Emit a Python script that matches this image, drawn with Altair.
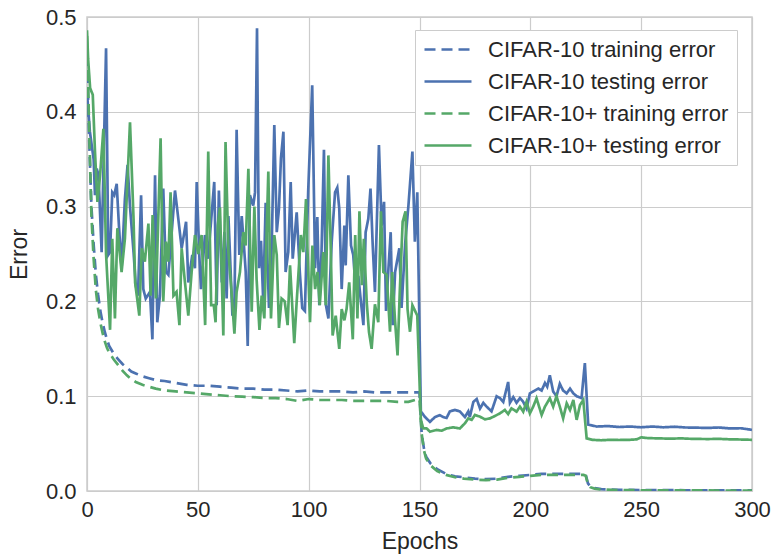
import altair as alt
import pandas as pd

SERIES = ["CIFAR-10 training error", "CIFAR-10 testing error",
          "CIFAR-10+ training error", "CIFAR-10+ testing error"]
COLORS = ["#4C72B0", "#4C72B0", "#55A868", "#55A868"]
DASHES = [[11, 6], [1, 0], [11, 6], [1, 0]]

c10_train = [(0,0.46),(1,0.37),(2,0.3),(3,0.26),(4,0.228),(5,0.207),(6,0.19),(7,0.178),(8,0.168),(9,0.16),(10,0.153),(12,0.145),(14,0.139),(16,0.134),(18,0.13),(20,0.126),(22,0.124),(25,0.121),(28,0.119),(31,0.117),(35,0.116),(40,0.114),(45,0.112),(50,0.111),(55,0.111),(60,0.11),(65,0.109),(70,0.108),(75,0.108),(80,0.107),(85,0.107),(90,0.106),(95,0.105),(100,0.106),(105,0.105),(110,0.105),(115,0.105),(120,0.104),(125,0.105),(130,0.104),(135,0.104),(140,0.104),(145,0.104),(150,0.104),(151,0.06),(152,0.045),(153,0.036),(155,0.029),(158,0.023),(162,0.018),(166,0.0155),(170,0.0145),(175,0.013),(180,0.0125),(185,0.013),(190,0.015),(195,0.016),(200,0.017),(205,0.018),(210,0.018),(215,0.018),(220,0.018),(224,0.018),(225,0.017),(226,0.008),(227,0.005),(229,0.003),(232,0.002),(240,0.0012),(250,0.001),(270,0.0008),(300,0.0007)]

c10_test = [(0,0.42),(1.3,0.379),(3,0.35),(3.6,0.312),(4.4,0.34),(5.2,0.333),(6.6,0.252),(8.6,0.467),(9.6,0.249),(10.4,0.252),(11.4,0.315),(12.3,0.312),(13.4,0.324),(14.4,0.28),(15.6,0.235),(17.1,0.308),(18.3,0.344),(19.4,0.30),(21,0.252),(22,0.217),(23,0.206),(24.4,0.312),(25.4,0.213),(26.5,0.203),(28.4,0.21),(29.5,0.16),(30.7,0.333),(31.7,0.178),(32.9,0.206),(34.4,0.319),(35.6,0.231),(36.7,0.228),(39.7,0.317),(41.2,0.287),(42.7,0.256),(44.7,0.284),(45.7,0.22),(47.5,0.249),(48.7,0.235),(49.5,0.326),(50.6,0.252),(51.4,0.213),(53.2,0.27),(54.6,0.245),(57.4,0.326),(58.5,0.196),(59.5,0.317),(60.8,0.22),(62,0.273),(63,0.203),(63.8,0.29),(65.6,0.185),(66.5,0.192),(67.5,0.381),(68.7,0.249),(69.8,0.29),(70.8,0.259),(71.6,0.231),(72.5,0.153),(73.5,0.312),(75,0.301),(75.8,0.315),(76.7,0.488),(77.6,0.235),(78.5,0.264),(79.5,0.2),(80.6,0.304),(82.1,0.193),(83.3,0.256),(84.5,0.386),(85.6,0.273),(86.6,0.298),(87.5,0.351),(88.6,0.379),(89.6,0.231),(90.8,0.252),(91.9,0.326),(92.8,0.245),(94.6,0.294),(96,0.231),(97.1,0.193),(98.3,0.19),(99.8,0.317),(101.6,0.428),(102.9,0.235),(103.9,0.289),(104.8,0.196),(105.8,0.252),(106.9,0.36),(107.8,0.196),(108.9,0.182),(110.4,0.263),(111.9,0.315),(112.9,0.32),(113.8,0.298),(114.9,0.213),(116.1,0.28),(116.7,0.238),(117.9,0.333),(119.1,0.259),(120.1,0.249),(121.2,0.213),(122.4,0.227),(123.6,0.199),(124.7,0.175),(125.7,0.273),(126.9,0.287),(127.9,0.319),(128.9,0.259),(129.9,0.21),(131.7,0.365),(132.9,0.28),(134,0.305),(134.9,0.19),(136,0.235),(137,0.273),(137.9,0.175),(139,0.231),(140.9,0.256),(141.9,0.193),(143.5,0.26),(145,0.301),(146.8,0.358),(147.9,0.263),(149,0.315),(150.6,0.084),(152.5,0.078),(154.7,0.073),(157,0.078),(159.2,0.08),(160.7,0.078),(162.2,0.077),(163.7,0.084),(166,0.0855),(168.2,0.084),(170.5,0.078),(172,0.084),(172.7,0.078),(174.3,0.094),(175.8,0.097),(177.3,0.087),(178.8,0.093),(180.3,0.089),(182.5,0.084),(184.8,0.1),(186.3,0.098),(187.8,0.094),(190,0.115),(190.8,0.093),(192.3,0.099),(193.8,0.093),(195.3,0.098),(196.8,0.094),(198.3,0.087),(199.8,0.103),(201.3,0.105),(203.6,0.108),(205.1,0.106),(206.6,0.114),(207.6,0.11),(208.8,0.122),(210.3,0.105),(211.8,0.1),(213.3,0.113),(214.8,0.106),(216.4,0.103),(217.9,0.108),(219.4,0.103),(220.9,0.1),(223.1,0.098),(224.6,0.135),(226.1,0.07),(230,0.068),(235,0.0685),(240,0.0675),(245,0.068),(250,0.0672),(255,0.068),(260,0.0672),(265,0.0678),(270,0.067),(275,0.0668),(280,0.0665),(285,0.067),(290,0.066),(295,0.0662),(300,0.0645)]

c10p_train = [(0,0.48),(1,0.38),(2,0.29),(3,0.245),(4,0.212),(5,0.192),(6,0.178),(7,0.167),(8,0.158),(9,0.151),(10,0.146),(12,0.139),(14,0.133),(16,0.127),(18,0.122),(20,0.118),(22,0.115),(25,0.112),(28,0.11),(31,0.108),(35,0.106),(40,0.105),(45,0.104),(50,0.103),(55,0.102),(60,0.101),(65,0.1),(70,0.0995),(75,0.099),(80,0.098),(85,0.098),(90,0.097),(95,0.095),(100,0.097),(105,0.096),(110,0.096),(115,0.096),(120,0.095),(125,0.095),(130,0.095),(135,0.095),(140,0.094),(145,0.094),(148,0.096),(150,0.097),(151,0.06),(152,0.043),(153,0.034),(155,0.027),(158,0.021),(162,0.017),(166,0.0145),(170,0.013),(175,0.012),(180,0.0115),(185,0.012),(190,0.014),(195,0.015),(200,0.016),(205,0.017),(210,0.017),(215,0.017),(220,0.017),(224,0.017),(225,0.016),(226,0.007),(227,0.004),(229,0.0025),(232,0.0015),(240,0.001),(250,0.0008),(270,0.0006),(300,0.0005)]

c10p_test = [(0,0.486),(0.5,0.456),(1.4,0.425),(2.6,0.418),(3.6,0.358),(4.7,0.305),(5.9,0.333),(7.4,0.382),(8.6,0.25),(10.4,0.17),(11.4,0.266),(12.6,0.182),(13.7,0.277),(15.6,0.231),(17.1,0.266),(19.4,0.389),(21,0.287),(21.7,0.22),(23.6,0.185),(24.7,0.256),(26.1,0.242),(27.7,0.282),(28.7,0.206),(29.6,0.291),(31.1,0.203),(33.2,0.372),(34.4,0.2),(35.6,0.263),(36.7,0.242),(37.7,0.315),(39,0.206),(40.4,0.21),(41.7,0.175),(42.7,0.256),(44.2,0.22),(45.7,0.185),(47.2,0.231),(48.7,0.27),(50.2,0.25),(51.7,0.27),(53.3,0.175),(54.7,0.358),(56,0.196),(57.2,0.196),(58,0.178),(59,0.28),(60,0.299),(61.5,0.164),(62.5,0.368),(63.8,0.252),(65.2,0.21),(66.5,0.166),(67.5,0.21),(69,0.231),(70.5,0.273),(71.6,0.259),(72.8,0.34),(74.3,0.189),(75.5,0.30),(76.5,0.224),(77.8,0.17),(78.8,0.206),(80,0.182),(81.8,0.337),(83,0.182),(84.5,0.27),(85.6,0.249),(86.6,0.172),(87.8,0.203),(89.2,0.2),(90.5,0.175),(91.6,0.238),(93.5,0.156),(94.6,0.2),(96.5,0.27),(97.6,0.252),(98.8,0.308),(99.5,0.252),(100.6,0.178),(101.7,0.259),(102.9,0.213),(104,0.231),(105,0.196),(106.6,0.252),(107.7,0.196),(108.9,0.354),(110,0.252),(110.8,0.164),(112.2,0.185),(113.8,0.15),(114.9,0.192),(116.1,0.18),(117.1,0.192),(118.3,0.22),(119.9,0.16),(121,0.27),(122,0.182),(122.9,0.295),(124,0.217),(124.9,0.266),(126.2,0.199),(127.2,0.168),(128.4,0.15),(129.9,0.197),(131.4,0.178),(132.6,0.295),(133.7,0.231),(135.2,0.228),(136.7,0.168),(137.7,0.231),(138.9,0.182),(140.1,0.143),(141.1,0.21),(142.4,0.284),(143.7,0.295),(144.6,0.192),(145.7,0.168),(146.8,0.196),(148,0.19),(149,0.185),(150.6,0.075),(151.7,0.066),(153.2,0.066),(154.7,0.0626),(157.7,0.0644),(160,0.0636),(162.2,0.066),(165.2,0.0672),(168.2,0.066),(170.5,0.0714),(172,0.0766),(173.5,0.075),(175,0.0802),(177.3,0.0784),(179.5,0.0756),(181.8,0.0766),(184,0.0791),(186.3,0.0819),(188.5,0.0855),(190,0.0812),(191.5,0.0872),(193.8,0.0837),(195.3,0.089),(196.8,0.0837),(198.3,0.0942),(199.8,0.0819),(201.3,0.089),(202.8,0.0978),(205.1,0.0802),(206.6,0.089),(208.8,0.0978),(210.3,0.089),(211.8,0.1),(213.3,0.089),(214.8,0.0766),(216.4,0.0925),(217.9,0.0855),(219.4,0.096),(220.9,0.075),(222.4,0.0907),(223.9,0.096),(225.4,0.0555),(228,0.054),(232,0.0535),(236,0.054),(240,0.0538),(245,0.054),(248,0.0545),(250,0.0566),(253,0.0558),(258,0.0555),(263,0.0552),(268,0.0555),(273,0.055),(280,0.0548),(285,0.055),(290,0.0545),(295,0.0543),(300,0.054)]

X_TICKS = [0, 50, 100, 150, 200, 250, 300]
Y_TICKS = [0.0, 0.1, 0.2, 0.3, 0.4, 0.5]

all_series = [c10_train, c10_test, c10p_train, c10p_test]
rows = []
for name, pts in zip(SERIES, all_series):
    for i, (e, v) in enumerate(pts):
        rows.append({"series": name, "epoch": e, "error": v, "order": i})
df = pd.DataFrame(rows)

FONT = "Liberation Sans"
TXT = "#262626"

legend = alt.Legend(title=None, orient="none", legendX=328, legendY=13,
                    symbolType="M-1,0L3.7,0", symbolSize=400, symbolStrokeWidth=2.7,
                    labelFontSize=22, labelColor=TXT, labelFont=FONT, labelLimit=400,
                    fillColor="white", strokeColor="#cccccc",
                    padding=8, rowPadding=9, labelOffset=42, symbolOffset=0)

x = alt.X("epoch:Q", title="Epochs", scale=alt.Scale(domain=[0, 300], nice=False),
          axis=alt.Axis(values=X_TICKS, format="d", labelFlush=False, labelOverlap=False))
y = alt.Y("error:Q", title="Error", scale=alt.Scale(domain=[0, 0.5], nice=False),
          axis=alt.Axis(values=Y_TICKS, format=".1f", labelOverlap=False))
color = alt.Color("series:N", scale=alt.Scale(domain=SERIES, range=COLORS), legend=legend)
dash = alt.StrokeDash("series:N", scale=alt.Scale(domain=SERIES, range=DASHES), legend=legend)

layers = []
for name in SERIES:
    layers.append(
        alt.Chart(df).transform_filter(alt.datum.series == name)
        .mark_line(strokeWidth=2.7, clip=True)
        .encode(x=x, y=y, color=color, strokeDash=dash, order="order:Q")
    )

chart = alt.layer(*layers).properties(
    width=665, height=474,
    autosize=alt.AutoSizeParams(type="none"),
    padding={"left": 87, "top": 17, "right": 22, "bottom": 65},
).configure_view(stroke="#cccccc", strokeWidth=1.5).configure_axis(
    grid=True, gridColor="#cccccc", gridWidth=1.2, domain=False, ticks=False,
    labelFont=FONT, labelFontSize=22, labelColor=TXT,
    titleFont=FONT, titleFontSize=23, titleColor=TXT, titleFontWeight="normal",
).configure_axisX(labelPadding=8, titlePadding=10).configure_axisY(labelPadding=11, titlePadding=14)

chart.save("out.html", embed_options={"renderer": "svg", "actions": False})
